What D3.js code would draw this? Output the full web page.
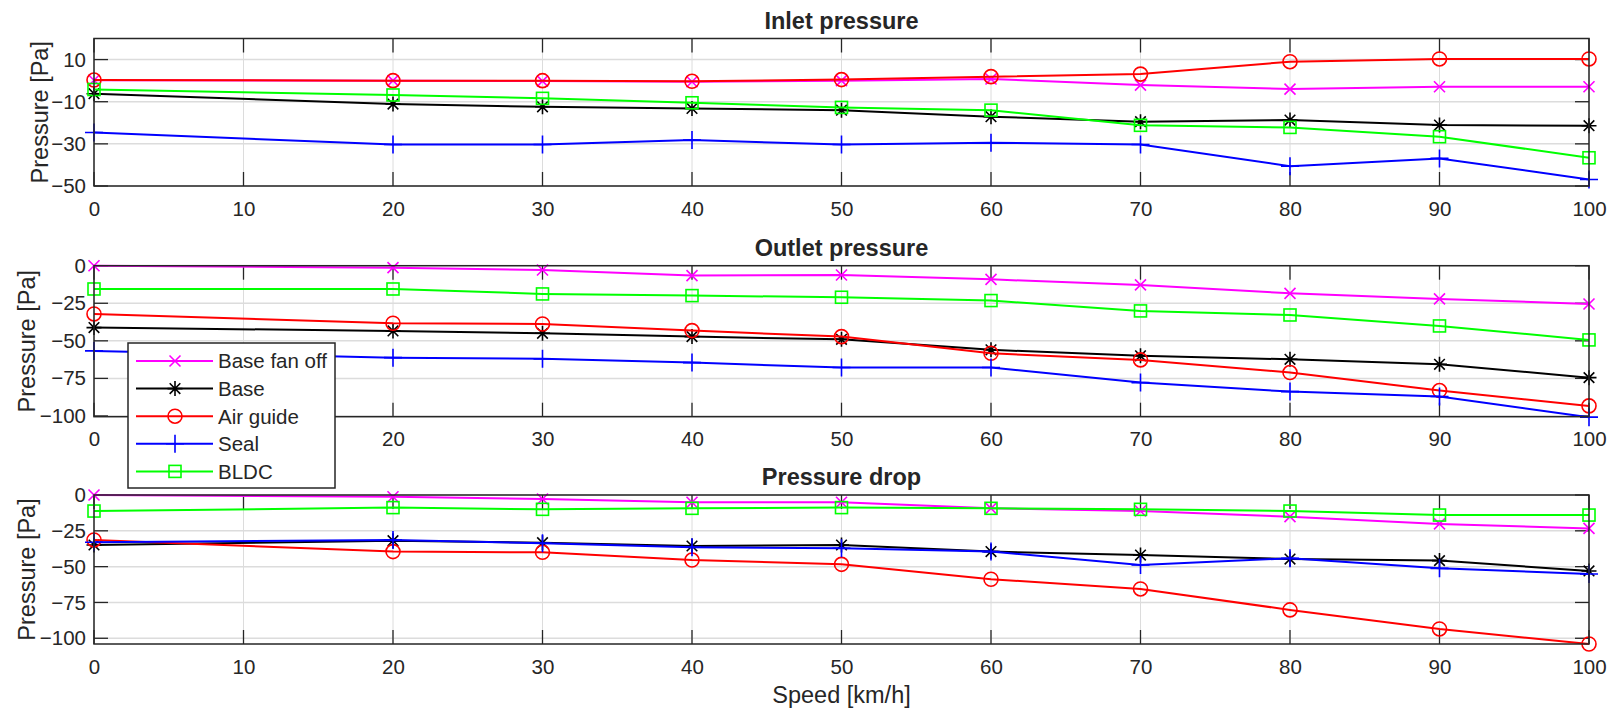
<!DOCTYPE html>
<html>
<head>
<meta charset="utf-8">
<script src="https://cdn.jsdelivr.net/npm/d3@7"></script>
<style>
  body { margin: 0; background: #fff; }
  text { font-family: "Liberation Sans", Arial, Helvetica, sans-serif; fill: #262626; }
</style>
</head>
<body>
<div id="chart"></div>
<script>
// speeds where the measurements were taken, and the x tick labels
var speeds = [0, 20, 30, 40, 50, 60, 70, 80, 90, 100];
var xTicks = [0, 10, 20, 30, 40, 50, 60, 70, 80, 90, 100];

var seriesNames = ["Base fan off", "Base", "Air guide", "Seal", "BLDC"];

// Inlet pressure [Pa]
var inletBaseFanOff = [0.2, 0, -0.2, -0.5, 0, 0.8, -2.1, -4.0, -2.9, -2.9];
var inletBase       = [-6.2, -11.1, -12.4, -13.2, -14.0, -17.1, -19.5, -18.7, -21.1, -21.4];
var inletAirGuide   = [0.3, 0, 0, -0.3, 0.5, 1.9, 3.1, 9.0, 10.3, 10.3];
var inletSeal       = [-24.6, -30.3, -30.3, -28.2, -30.3, -29.5, -30.3, -40.6, -36.9, -46.9];
var inletBLDC       = [-4.2, -6.8, -8.4, -10.5, -12.7, -14.0, -21.2, -22.2, -26.6, -36.6];

// Outlet pressure [Pa]
var outletBaseFanOff = [0, -1.3, -2.9, -6.6, -6.2, -9.1, -12.8, -18.4, -22.1, -25.5];
var outletBase       = [-41.2, -43.4, -45.0, -47.2, -49.0, -56.0, -60.0, -62.3, -65.6, -74.5];
var outletAirGuide   = [-32.1, -38.3, -38.8, -43.2, -47.2, -58.3, -62.7, -71.1, -83.1, -93.3];
var outletSeal       = [-56.7, -61.2, -62.0, -64.5, -67.8, -67.8, -77.8, -83.8, -87.1, -100.8];
var outletBLDC       = [-15.5, -15.5, -18.8, -19.9, -21.0, -23.2, -30.1, -32.8, -40.1, -49.4];

// Pressure drop [Pa]
var dropBaseFanOff = [0, -1.2, -2.8, -5.1, -5.1, -9.3, -11.2, -15.1, -20.2, -23.3];
var dropBase       = [-34.9, -31.9, -33.3, -35.6, -34.9, -39.5, -41.9, -44.7, -45.8, -53.0];
var dropAirGuide   = [-31.4, -39.5, -40.0, -45.4, -48.4, -58.8, -65.6, -80.2, -93.5, -104.0];
var dropSeal       = [-33.0, -31.4, -33.7, -36.5, -37.2, -39.5, -48.8, -44.2, -51.2, -55.1];
var dropBLDC       = [-11.2, -8.8, -10.0, -9.3, -8.8, -9.3, -10.0, -11.2, -14.0, -14.0];

// y tick labels of each panel
var inletTicks = [-50, -30, -10, 10];
var outletTicks = [-100, -75, -50, -25, 0];
var dropTicks = [-100, -75, -50, -25, 0];

var svgWidth = 1611;
var svgHeight = 710;
var left = 94, right = 1589;

var styles = [
  { color: "#ff00ff", marker: "x" },
  { color: "#000000", marker: "star" },
  { color: "#ff0000", marker: "circle" },
  { color: "#0000ff", marker: "plus" },
  { color: "#00ff00", marker: "square" }
];

// hidden: x tick label that sits under the legend
var panels = [
  { title: "Inlet pressure", top: 38.5, bottom: 186, domain: [-50, 20], ticks: inletTicks, labelX: 48, hidden: [],
    series: [inletBaseFanOff, inletBase, inletAirGuide, inletSeal, inletBLDC] },
  { title: "Outlet pressure", top: 265.7, bottom: 416.7, domain: [-100.5, 0], ticks: outletTicks, labelX: 35, hidden: [10],
    series: [outletBaseFanOff, outletBase, outletAirGuide, outletSeal, outletBLDC] },
  { title: "Pressure drop", top: 495, bottom: 644, domain: [-104, 0], ticks: dropTicks, labelX: 35, hidden: [],
    series: [dropBaseFanOff, dropBase, dropAirGuide, dropSeal, dropBLDC] }
];

var svg = d3.select("#chart")
  .append("svg")
  .attr("width", svgWidth)
  .attr("height", svgHeight);

var x = d3.scaleLinear().domain([0, 100]).range([left, right]);

// draws a MATLAB style marker into a group
function drawMarker(g, type, color) {
  var s;
  if (type === "circle") {
    g.append("circle").attr("r", 7).attr("fill", "none").attr("stroke", color).attr("stroke-width", 1.6);
  } else if (type === "square") {
    g.append("rect").attr("x", -6).attr("y", -6).attr("width", 12).attr("height", 12)
      .attr("fill", "none").attr("stroke", color).attr("stroke-width", 1.6);
  } else if (type === "x") {
    s = 5.5;
    g.append("path").attr("d", `M${-s},${-s}L${s},${s}M${-s},${s}L${s},${-s}`)
      .attr("stroke", color).attr("stroke-width", 1.6);
  } else if (type === "plus") {
    s = 9;
    g.append("path").attr("d", `M0,${-s}L0,${s}M${-s},0L${s},0`)
      .attr("stroke", color).attr("stroke-width", 1.6);
  } else if (type === "star") {
    s = 7.5;
    var d = 5.3;
    g.append("path").attr("d", `M0,${-s}L0,${s}M${-s},0L${s},0M${-d},${-d}L${d},${d}M${-d},${d}L${d},${-d}`)
      .attr("stroke", color).attr("stroke-width", 1.6);
  }
}

panels.forEach(function(p) {
  var y = d3.scaleLinear().domain(p.domain).range([p.bottom, p.top]);
  var g = svg.append("g");

  // grid
  g.selectAll(".gx").data(xTicks).enter().append("line")
    .attr("x1", d => x(d)).attr("x2", d => x(d))
    .attr("y1", p.top).attr("y2", p.bottom)
    .attr("stroke", "#dcdcdc").attr("stroke-width", 1);
  g.selectAll(".gy").data(p.ticks).enter().append("line")
    .attr("x1", left).attr("x2", right)
    .attr("y1", d => y(d)).attr("y2", d => y(d))
    .attr("stroke", "#dcdcdc").attr("stroke-width", 1.5);

  // inward ticks on all four sides
  var tk = 14;
  xTicks.forEach(function(t) {
    g.append("line").attr("x1", x(t)).attr("x2", x(t)).attr("y1", p.bottom).attr("y2", p.bottom - tk)
      .attr("stroke", "#262626").attr("stroke-width", 1.3);
    g.append("line").attr("x1", x(t)).attr("x2", x(t)).attr("y1", p.top).attr("y2", p.top + tk)
      .attr("stroke", "#262626").attr("stroke-width", 1.3);
  });
  p.ticks.forEach(function(t) {
    g.append("line").attr("x1", left).attr("x2", left + tk).attr("y1", y(t)).attr("y2", y(t))
      .attr("stroke", "#262626").attr("stroke-width", 1.3);
    g.append("line").attr("x1", right).attr("x2", right - tk).attr("y1", y(t)).attr("y2", y(t))
      .attr("stroke", "#262626").attr("stroke-width", 1.3);
  });

  // tick labels through the d3 axes
  var bottomAxis = d3.axisBottom(x).tickValues(xTicks.filter(t => p.hidden.indexOf(t) < 0))
    .tickSize(0).tickPadding(15);
  var leftAxis = d3.axisLeft(y).tickValues(p.ticks).tickSize(0).tickPadding(8);
  var ax = g.append("g").attr("transform", `translate(0, ${p.bottom})`).call(bottomAxis);
  var ay = g.append("g").attr("transform", `translate(${left}, 0)`).call(leftAxis);
  [ax, ay].forEach(function(a) {
    a.select(".domain").remove();
    a.selectAll("text").style("font-size", "20.5px").attr("fill", "#262626")
      .style("font-family", "'Liberation Sans', Arial, sans-serif");
  });

  // series
  p.series.forEach(function(vals, i) {
    var pts = speeds.map((s, j) => [s, vals[j]]);
    g.append("path")
      .datum(pts)
      .attr("fill", "none")
      .attr("stroke", styles[i].color)
      .attr("stroke-width", 2)
      .attr("d", d3.line().x(d => x(d[0])).y(d => y(d[1])));
    pts.forEach(function(d) {
      var m = g.append("g").attr("transform", `translate(${x(d[0])}, ${y(d[1])})`);
      drawMarker(m, styles[i].marker, styles[i].color);
    });
  });

  // box
  g.append("rect")
    .attr("x", left).attr("y", p.top)
    .attr("width", right - left).attr("height", p.bottom - p.top)
    .attr("fill", "none").attr("stroke", "#262626").attr("stroke-width", 1.5);

  // title and y label
  g.append("text")
    .attr("x", (left + right) / 2).attr("y", p.top - 10)
    .attr("text-anchor", "middle")
    .style("font-size", "23.5px").style("font-weight", "bold")
    .text(p.title);

  g.append("text")
    .attr("transform", `translate(${p.labelX}, ${(p.top + p.bottom) / 2}) rotate(-90)`)
    .attr("text-anchor", "middle")
    .style("font-size", "23.5px")
    .text("Pressure [Pa]");
});

svg.append("text")
  .attr("x", (left + right) / 2).attr("y", 703)
  .attr("text-anchor", "middle")
  .style("font-size", "23.5px")
  .text("Speed [km/h]");

// legend
var legend = svg.append("g");
legend.append("rect")
  .attr("x", 128).attr("y", 343)
  .attr("width", 207).attr("height", 145)
  .attr("fill", "#fff").attr("stroke", "#262626").attr("stroke-width", 1.5);

seriesNames.forEach(function(name, i) {
  var ly = 361 + i * 27.6;
  legend.append("line")
    .attr("x1", 136).attr("x2", 213).attr("y1", ly).attr("y2", ly)
    .attr("stroke", styles[i].color).attr("stroke-width", 2);
  var m = legend.append("g").attr("transform", `translate(175, ${ly})`);
  drawMarker(m, styles[i].marker, styles[i].color);
  legend.append("text")
    .attr("x", 218).attr("y", ly).attr("dy", "0.36em")
    .style("font-size", "20.5px")
    .text(name);
});
</script>
</body>
</html>
